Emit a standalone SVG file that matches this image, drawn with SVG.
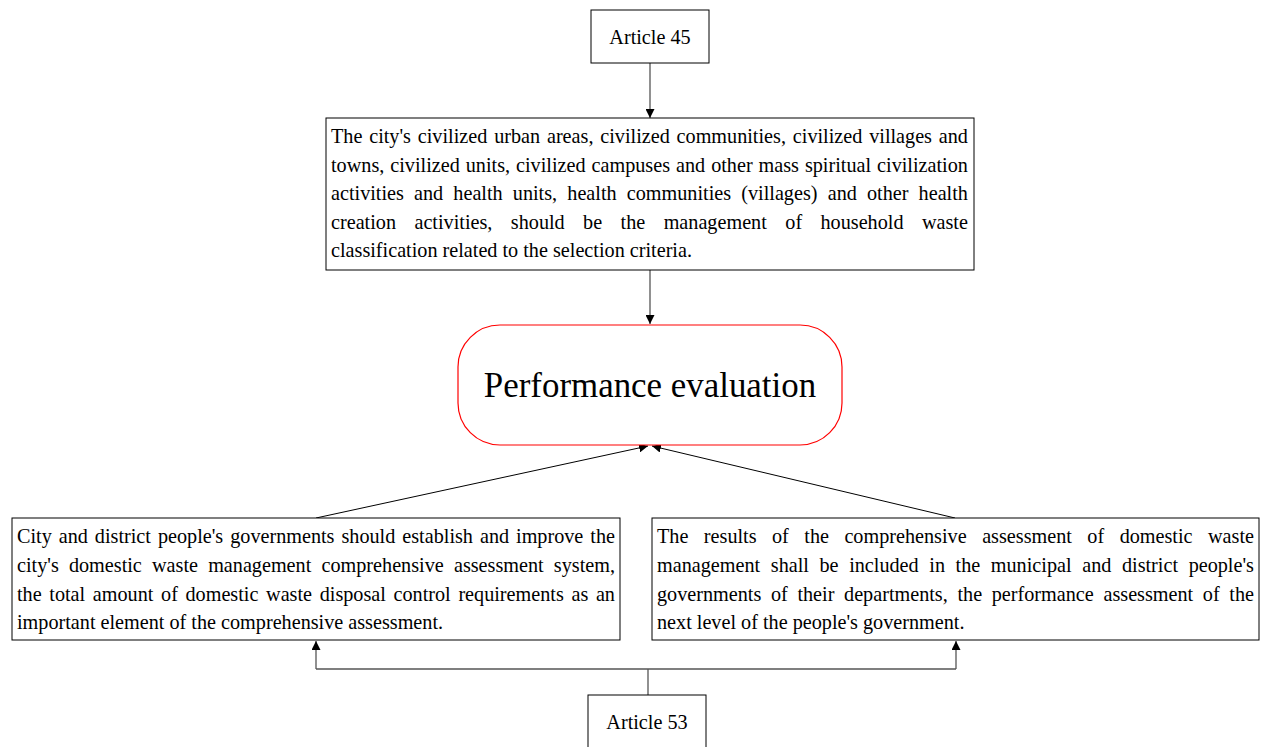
<svg xmlns="http://www.w3.org/2000/svg" width="1261" height="747" viewBox="0 0 1261 747">
  <style>
    .box { fill: #ffffff; stroke: #000000; stroke-width: 1; }
    .oval { fill: #ffffff; stroke: #ff0000; stroke-width: 1.2; }
    .txt { font-family: "Liberation Serif", "Times New Roman", serif; font-size: 20.2px; fill: #000000; }
    .big { font-family: "Liberation Serif", "Times New Roman", serif; font-size: 34.9px; fill: #000000; }
    .link { fill: none; stroke: #555555; stroke-width: 1.3; }
    .diag { fill: none; stroke: #000000; stroke-width: 1; }
  </style>
  <defs>
    <marker id="arrow" viewBox="0 0 10 10" refX="10" refY="5" markerWidth="9" markerHeight="9" markerUnits="userSpaceOnUse" orient="auto">
      <path d="M0,0 L10,5 L0,10 Z" fill="#000000"/>
    </marker>
  </defs>

  <rect width="1261" height="747" fill="#ffffff"/>

  <!-- connectors -->
  <g id="connectors">
    <path class="link" d="M650,63 L650,118" marker-end="url(#arrow)"/>
    <path class="link" d="M650,270 L650,324" marker-end="url(#arrow)"/>
    <path class="diag" d="M316,518 L648,446" marker-end="url(#arrow)"/>
    <path class="diag" d="M955,518 L652,446" marker-end="url(#arrow)"/>
    <path class="link" d="M648,695 L648,669"/>
    <path class="link" d="M316,669 L956,669"/>
    <path class="link" d="M316,669 L316,641" marker-end="url(#arrow)"/>
    <path class="link" d="M956,669 L956,641" marker-end="url(#arrow)"/>
  </g>

  <!-- Article 45 -->
  <g id="article45">
    <rect class="box" x="591" y="10" width="118" height="53"/>
    <text class="txt" x="650" y="44" text-anchor="middle">Article 45</text>
  </g>

  <!-- selection criteria (justified, words placed one by one) -->
  <g id="criteria">
    <rect class="box" x="326" y="118" width="648" height="152"/>
    <text class="txt" y="143"><tspan x="331">The</tspan><tspan x="369.2">city's</tspan><tspan x="417.78">civilized</tspan><tspan x="494.14">urban</tspan><tspan x="546.93">areas,</tspan><tspan x="600.26">civilized</tspan><tspan x="676.62">communities,</tspan><tspan x="792.83">civilized</tspan><tspan x="869.19">villages</tspan><tspan x="938.82">and</tspan></text>
    <text class="txt" y="172"><tspan x="331">towns,</tspan><tspan x="390.25">civilized</tspan><tspan x="465.76">units,</tspan><tspan x="516.04">civilized</tspan><tspan x="591.55">campuses</tspan><tspan x="676.03">and</tspan><tspan x="711.14">other</tspan><tspan x="758.59">mass</tspan><tspan x="804.93">spiritual</tspan><tspan x="877.09">civilization</tspan></text>
    <text class="txt" y="200"><tspan x="331">activities</tspan><tspan x="414.06">and</tspan><tspan x="453.35">health</tspan><tspan x="512.84">units,</tspan><tspan x="567.3">health</tspan><tspan x="626.79">communities</tspan><tspan x="741.28">(villages)</tspan><tspan x="827.7">and</tspan><tspan x="866.99">other</tspan><tspan x="918.62">health</tspan></text>
    <text class="txt" y="229"><tspan x="331">creation</tspan><tspan x="414.46">activities,</tspan><tspan x="510.85">should</tspan><tspan x="583.12">be</tspan><tspan x="620.59">the</tspan><tspan x="663.67">management</tspan><tspan x="785.29">of</tspan><tspan x="820.52">household</tspan><tspan x="921.96">waste</tspan></text>
    <text class="txt" x="331" y="257">classification related to the selection criteria.</text>
  </g>

  <!-- Performance evaluation -->
  <g id="performance">
    <rect class="oval" x="458" y="325" width="384" height="120" rx="42" ry="42"/>
    <text class="big" x="650" y="397" text-anchor="middle">Performance evaluation</text>
  </g>

  <!-- assessment system -->
  <g id="assessment-system">
    <rect class="box" x="12" y="518" width="608" height="122"/>
    <text class="txt" y="543"><tspan x="17">City</tspan><tspan x="58.74">and</tspan><tspan x="94.85">district</tspan><tspan x="157.91">people's</tspan><tspan x="230.2">governments</tspan><tspan x="341.49">should</tspan><tspan x="402.3">establish</tspan><tspan x="479.94">and</tspan><tspan x="516.05">improve</tspan><tspan x="590.32">the</tspan></text>
    <text class="txt" y="572"><tspan x="17">city's</tspan><tspan x="68.93">domestic</tspan><tspan x="152.01">waste</tspan><tspan x="208.15">management</tspan><tspan x="321.51">comprehensive</tspan><tspan x="453.94">assessment</tspan><tspan x="553.85">system,</tspan></text>
    <text class="txt" y="601"><tspan x="17">the</tspan><tspan x="49.3">total</tspan><tspan x="92.84">amount</tspan><tspan x="161.06">of</tspan><tspan x="185.51">domestic</tspan><tspan x="266.07">waste</tspan><tspan x="319.69">disposal</tspan><tspan x="393.53">control</tspan><tspan x="458.38">requirements</tspan><tspan x="571.46">as</tspan><tspan x="595.91">an</tspan></text>
    <text class="txt" x="17" y="629">important element of the comprehensive assessment.</text>
  </g>

  <!-- assessment results -->
  <g id="assessment-results">
    <rect class="box" x="652" y="518" width="607" height="122"/>
    <text class="txt" y="543"><tspan x="657">The</tspan><tspan x="703.85">results</tspan><tspan x="772.03">of</tspan><tspan x="804.3">the</tspan><tspan x="844.42">comprehensive</tspan><tspan x="982.15">assessment</tspan><tspan x="1087.36">of</tspan><tspan x="1119.63">domestic</tspan><tspan x="1208.01">waste</tspan></text>
    <text class="txt" y="572"><tspan x="657">management</tspan><tspan x="770.79">shall</tspan><tspan x="819.52">be</tspan><tspan x="849.16">included</tspan><tspan x="929.3">in</tspan><tspan x="955.59">the</tspan><tspan x="990.84">municipal</tspan><tspan x="1082.21">and</tspan><tspan x="1121.95">district</tspan><tspan x="1188.64">people's</tspan></text>
    <text class="txt" y="601"><tspan x="657">governments</tspan><tspan x="770.97">of</tspan><tspan x="797.42">their</tspan><tspan x="844.07">departments,</tspan><tspan x="957.48">the</tspan><tspan x="991.78">performance</tspan><tspan x="1103.47">assessment</tspan><tspan x="1202.86">of</tspan><tspan x="1229.31">the</tspan></text>
    <text class="txt" x="657" y="629">next level of the people's government.</text>
  </g>

  <!-- Article 53 -->
  <g id="article53">
    <rect class="box" x="588" y="695" width="118" height="60"/>
    <text class="txt" x="647" y="729" text-anchor="middle">Article 53</text>
  </g>
</svg>
